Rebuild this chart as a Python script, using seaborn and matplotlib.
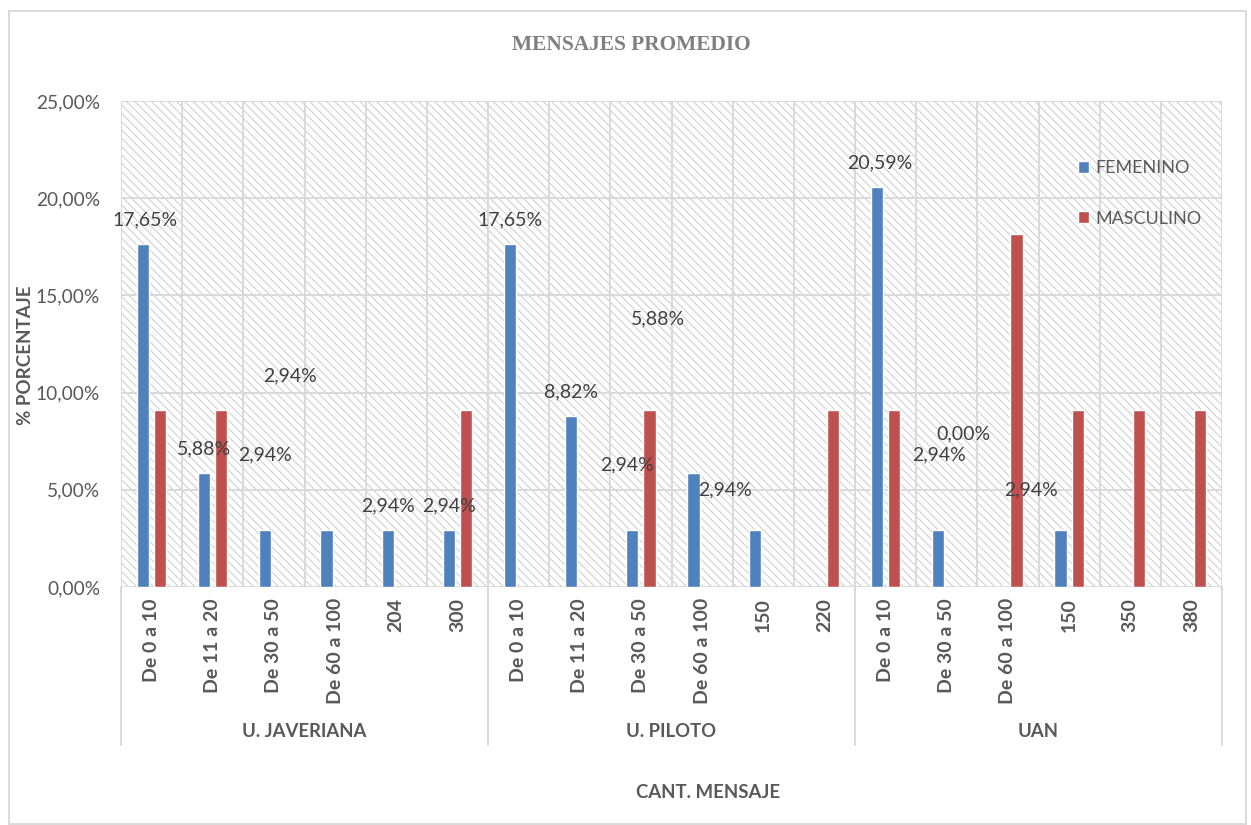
import numpy as np
import pandas as pd
import matplotlib
matplotlib.use("Agg")
import matplotlib.pyplot as plt
import seaborn as sns
from matplotlib.patches import Rectangle
from matplotlib.ticker import FuncFormatter, MultipleLocator

# --- data (percent) ---
groups = ["U. JAVERIANA", "U. PILOTO", "UAN"]
group_cats = [
    ["De 0 a 10", "De 11 a 20", "De 30 a 50", "De 60 a 100", "204", "300"],
    ["De 0 a 10", "De 11 a 20", "De 30 a 50", "De 60 a 100", "150", "220"],
    ["De 0 a 10", "De 30 a 50", "De 60 a 100", "150", "350", "380"],
]
femenino = [17.65, 5.88, 2.94, 2.94, 2.94, 2.94,
            17.65, 8.82, 2.94, 5.88, 2.94, np.nan,
            20.59, 2.94, 0.00, 2.94, np.nan, np.nan]
masculino = [9.09, 9.09, np.nan, np.nan, np.nan, 9.09,
             np.nan, np.nan, 9.09, np.nan, np.nan, 9.09,
             9.09, np.nan, 18.18, 9.09, 9.09, 9.09]

# where Excel left the FEMENINO data labels (x offset from category, y in %)
label_dx = [-0.11, -0.14, -0.15, -0.74, -0.14, -0.14,
            -0.14, -0.14, -0.23, -0.72, -0.63, 0,
            -0.09, -0.13, -0.72, -0.62, 0, 0]
label_y = [18.88, 7.10, 6.79, 10.85, 4.17, 4.17,
           18.88, 10.03, 6.28, 13.79, 4.99, np.nan,
           21.81, 6.79, 7.87, 4.99, np.nan, np.nan]

blue = "#4F81BD"
red = "#C0504D"
txt = "#595959"

# --- long-form table ---
cats = [c for g in group_cats for c in g]
keys = [f"{g}|{c}" for g, gc in zip(groups, group_cats) for c in gc]
df = pd.DataFrame({
    "key": keys * 2,
    "sexo": ["FEMENINO"] * len(keys) + ["MASCULINO"] * len(keys),
    "valor": femenino + masculino,
})

sns.set_style("white")
plt.rcParams["font.family"] = ["Lato", "DejaVu Sans"]
plt.rcParams["hatch.linewidth"] = 0.6

fig = plt.figure(figsize=(12.51, 8.25), dpi=100)
ax = fig.add_axes([121 / 1251, 1 - 587 / 825, 1101 / 1251, 486 / 825])

sns.barplot(data=df, x="key", y="valor", hue="sexo", order=keys,
            hue_order=["FEMENINO", "MASCULINO"], palette=[blue, red],
            saturation=1, width=0.56, gap=0.29, errorbar=None, ax=ax, zorder=3)

# hatched plot area like the Excel pattern fill
ax.add_patch(Rectangle((0, 0), 1, 1, transform=ax.transAxes, facecolor="white",
                       edgecolor="#C4C4C4", hatch="\\\\\\\\", lw=0, zorder=-1))
ax.set_axisbelow(True)

ax.set_xlim(-0.5, len(keys) - 0.5)
ax.set_ylim(0, 25)
ax.yaxis.set_major_locator(MultipleLocator(5))
ax.yaxis.set_major_formatter(FuncFormatter(lambda v, p: f"{v:.2f}%".replace(".", ",")))
ax.set_xticks(np.arange(len(keys)))
ax.set_xticks(np.arange(len(keys) + 1) - 0.5, minor=True)
ax.set_xticklabels(cats, rotation=90, fontweight="bold", fontsize=14, color=txt)
ax.tick_params(axis="x", which="both", length=0, pad=8)
ax.tick_params(axis="y", length=0, pad=15, labelsize=13.8, labelcolor=txt)
ax.grid(axis="y", which="major", color="#D9D9D9", lw=1.4)
ax.grid(axis="x", which="minor", color="#D9D9D9", lw=1.4)
for s in ax.spines.values():
    s.set_visible(False)
ax.set_xlabel("")
ax.set_ylabel("% PORCENTAJE", fontweight="bold", fontsize=13.5, color=txt)
ax.yaxis.set_label_coords(-0.079, 0.477)

# data labels for FEMENINO
for i, (v, dx, ly) in enumerate(zip(femenino, label_dx, label_y)):
    if np.isnan(v):
        continue
    ax.text(i + dx, ly, f"{v:.2f}%".replace(".", ","), ha="center", va="center",
            fontsize=14, color="#404040", zorder=5)

# multi-level category axis: group separators and labels
xt = ax.get_xaxis_transform()
start = 0
bounds = [-0.5]
for g, gc in zip(groups, group_cats):
    mid = start + (len(gc) - 1) / 2
    ax.text(mid, -0.298, g, transform=xt, ha="center", va="center",
            fontweight="bold", fontsize=13.3, color=txt)
    start += len(gc)
    bounds.append(start - 0.5)
for b in bounds:
    ax.plot([b, b], [0, -0.325], transform=xt, color="#D9D9D9", lw=1.4, clip_on=False)

fig.text(708 / 1251, 1 - 793 / 825, "CANT. MENSAJE", ha="center", va="center",
         fontweight="bold", fontsize=13.4, color=txt)
fig.text(631 / 1251, 1 - 45 / 825, "MENSAJES PROMEDIO", ha="center", va="center",
         fontweight="bold", fontsize=15.4, color="#7F7F7F", family="Liberation Serif")

handles, labels = ax.get_legend_handles_labels()
ax.legend(handles, labels, loc="upper left", bbox_to_anchor=(1062 / 1251, 1 - 144 / 825),
          bbox_transform=fig.transFigure, frameon=False, fontsize=13,
          labelcolor=txt, handlelength=0.6, handleheight=0.6, handletextpad=0.35,
          labelspacing=1.9)

fig.patches.append(Rectangle((9 / 1251, 1 / 825), 1237 / 1251, 813 / 825,
                             transform=fig.transFigure, fill=False,
                             edgecolor="#D9D9D9", lw=1.4))

fig.savefig("out.png", dpi=100)
